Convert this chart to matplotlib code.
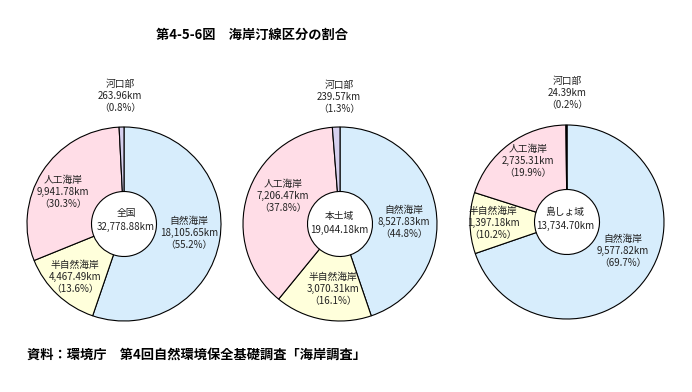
import matplotlib
matplotlib.use("Agg")
import matplotlib.pyplot as plt

plt.rcParams["font.family"] = ["Noto Sans CJK JP", "DejaVu Sans"]

# --- data ---
regions = ["全国", "本土域", "島しょ域"]
totals_km = [32778.88, 19044.18, 13734.70]
categories = ["自然海岸", "半自然海岸", "人工海岸", "河口部"]
natural_km = [18105.65, 8527.83, 9577.82]
seminatural_km = [4467.49, 3070.31, 1397.18]
artificial_km = [9941.78, 7206.47, 2735.31]
estuary_km = [263.96, 239.57, 24.39]
natural_pct = [55.2, 44.8, 69.7]
seminatural_pct = [13.6, 16.1, 10.2]
artificial_pct = [30.3, 37.8, 19.9]
estuary_pct = [0.8, 1.3, 0.2]

title = "第4-5-6図　海岸汀線区分の割合"
source = "資料：環境庁　第4回自然環境保全基礎調査「海岸調査」"

COLORS = ["#d7edfc", "#ffffdb", "#ffdde7", "#d6d0ee"]

W, H = 692, 392
# layout (pixel coords, y down): pie centres, radii, label anchors (middle line)
CENTERS = [(124, 224), (340, 224), (567, 222)]
R_OUT, R_IN = 97, 32.5
LABEL_POS = [
    # natural, semi-natural, artificial, estuary, centre
    [(189, 233), (75, 277), (63, 192), (120, 96), (126, 220)],
    [(404, 222), (333, 289), (283, 196), (339, 97), (339, 223)],
    [(623, 251), (493, 223), (528, 161), (567, 93), (565, 218.5)],
]
LINE = 12.5
FS = 7

fig = plt.figure(figsize=(W / 100, H / 100), dpi=100)
ax = fig.add_axes([0, 0, 1, 1])


def py(y):
    return H - y


for i, region in enumerate(regions):
    vals = [natural_km[i], seminatural_km[i], artificial_km[i], estuary_km[i]]
    pcts = [natural_pct[i], seminatural_pct[i], artificial_pct[i], estuary_pct[i]]
    cx, cy = CENTERS[i]
    ax.pie(vals, center=(cx, py(cy)), radius=R_OUT, startangle=90,
           counterclock=False, colors=COLORS,
           wedgeprops=dict(width=R_OUT - R_IN, edgecolor="black", linewidth=0.8))
    for j, cat in enumerate(categories):
        x, y = LABEL_POS[i][j]
        lines = [cat, f"{vals[j]:,.2f}km", f"（{pcts[j]:.1f}%）"]
        for k, s in enumerate(lines):
            ax.text(x, py(y + (k - 1) * LINE), s, ha="center", va="center",
                    fontsize=FS, color="#222222")
    x, y = LABEL_POS[i][4]
    ax.text(x, py(y - 7), region, ha="center", va="center", fontsize=FS, color="#222222")
    ax.text(x, py(y + 7), f"{totals_km[i]:,.2f}km", ha="center", va="center",
            fontsize=FS, color="#222222")

ax.text(252, py(35), title, ha="center", va="center", fontsize=9.5, weight="bold")
ax.text(27, py(355), source, ha="left", va="center", fontsize=9.5, weight="bold")

ax.set_xlim(0, W)
ax.set_ylim(0, H)
ax.set_aspect("auto")
ax.axis("off")
fig.savefig("out.png", dpi=100, facecolor="white")
